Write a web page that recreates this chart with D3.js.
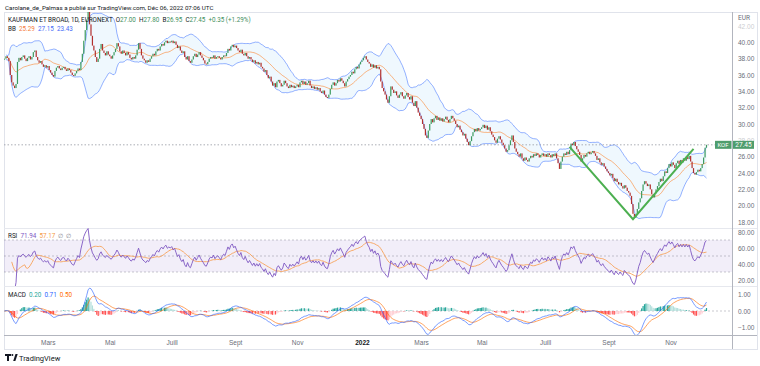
<!DOCTYPE html>
<html>
<head>
<meta charset="utf-8">
<script src="https://cdn.jsdelivr.net/npm/d3@7"></script>
<style>
  html, body { margin: 0; padding: 0; background: #fff; }
  svg { display: block; font-family: Roboto, "Open Sans", sans-serif; }
</style>
</head>
<body>
<div id="chart"></div>
<script>
// daily closes, one row per month
const close2021 = [
    38.0, 38.3, 38.1, 37.7, 36.0, 35.1, 34.7, 34.4, 34.9, 37.6, // janv (from 18th)
    38.1, 37.8, 38.2, 38.4, 38.0, 37.7, 38.1, 38.3, 37.9, 38.2, 38.8, 39.0, 38.2, 37.8, 37.5, 37.7, 37.3, 37.0, 37.2, 36.9,
    37.1, 36.6, 36.3, 36.0, 35.8, 36.5, 36.9, 37.1, 36.8, 36.6, 36.9, 37.0, 36.7, 36.5, 36.8, 36.6, 36.3, 36.0, 35.9, 36.2, 36.5, 36.8, 36.6,
    37.6, 38.6, 40.2, 41.5, 42.8, 44.0, 42.2, 40.8, 39.6, 39.0, 38.2, 37.6, 38.0, 39.2, 39.8, 39.0, 38.7, 38.4, 38.9, 38.5,
    38.3, 38.0, 38.4, 38.8, 39.2, 39.9, 39.5, 38.9, 38.6, 39.0, 38.7, 38.4, 38.8, 38.5, 38.1, 37.9, 38.2, 38.0, 38.4, 39.1, 39.9,
    39.2, 38.4, 38.0, 37.8, 37.5, 37.8, 37.6, 38.0, 38.3, 38.6, 38.4, 38.9, 39.2, 39.0, 39.5, 39.8, 39.6, 40.0, 40.2, 39.9, 40.1, 40.0,
    40.2, 39.9, 40.1, 39.7, 39.3, 39.5, 39.0, 38.7, 38.9, 38.2, 37.9, 38.3, 37.7, 37.5, 37.9, 38.3, 38.6, 38.2, 38.5, 38.8, 38.4, 38.1,
    37.8, 37.4, 37.3, 37.6, 38.0, 38.2, 38.1, 38.4, 38.0, 38.2, 38.3, 38.1, 37.9, 38.2, 38.4, 38.3, 38.7, 39.2, 39.0, 39.5, 39.7, 39.4,
    39.6, 39.3, 39.0, 38.8, 39.1, 38.6, 38.4, 38.7, 38.3, 38.0, 38.2, 37.9, 37.6, 37.8, 37.4, 37.6, 37.3, 37.5, 37.0, 36.8, 36.4, 36.6,
    36.0, 35.6, 35.8, 35.2, 34.7, 35.0, 34.5, 35.2, 35.4, 35.0, 34.6, 34.8, 35.3, 35.0, 34.6, 34.4, 34.8, 34.5, 34.7, 34.4, 34.6,
    34.8, 34.5, 35.1, 35.3, 34.9, 35.2, 34.8, 35.0, 35.3, 34.7, 34.4, 34.6, 34.3, 34.5, 34.2, 34.4, 34.0, 33.8, 34.1, 33.6, 33.3, 33.2,
    33.6, 34.3, 34.8, 35.1, 34.7, 35.0, 35.4, 35.2, 35.6, 35.3, 35.0, 34.6, 35.2, 35.5, 35.8, 36.0, 36.4, 36.2, 36.7, 37.0, 36.8, 37.3, 37.6
];
const close2022 = [
    37.8, 38.1, 38.3, 37.9, 37.6, 37.4, 37.0, 37.3, 36.9, 37.2, 36.8, 37.0, 36.7, 35.2, 34.4, 34.0, 33.6, 33.0, 32.6, 33.4, 34.6,
    34.2, 33.8, 34.0, 33.5, 33.2, 33.6, 33.9, 33.4, 33.1, 33.5, 33.8, 33.3, 33.0, 33.4, 32.6, 32.2, 32.8, 32.0, 31.4, 31.0,
    30.6, 30.0, 29.4, 28.6, 28.3, 29.2, 30.0, 30.6, 30.2, 30.7, 31.0, 30.5, 30.8, 30.4, 30.7, 30.3, 30.6, 30.9, 30.5, 30.2, 30.6, 31.0, 30.7,
    30.4, 30.0, 29.6, 29.8, 29.3, 29.0, 28.6, 28.8, 28.2, 27.8, 27.4, 27.9, 28.5, 29.0, 29.4, 29.1, 29.5, 29.2, 29.4,
    29.6, 29.9, 29.5, 29.8, 29.3, 29.6, 29.1, 28.7, 28.4, 28.0, 27.7, 28.2, 28.5, 28.1, 27.7, 27.4, 27.0, 26.6, 26.8, 27.4, 28.0, 28.6,
    27.8, 27.0, 26.6, 26.3, 26.0, 26.4, 25.8, 25.5, 25.9, 25.6, 25.4, 25.8, 26.1, 25.9, 26.3, 26.1, 26.4, 26.2, 25.9, 26.2, 26.4, 26.1,
    26.3, 26.0, 26.4, 26.2, 25.9, 26.3, 26.1, 26.4, 25.8, 25.2, 24.5, 25.4, 26.0, 26.4, 26.2, 26.6, 26.3, 26.8, 27.6, 27.4, 27.8,
    27.3, 26.9, 26.6, 26.2, 25.4, 25.8, 26.2, 26.0, 26.4, 26.6, 26.3, 26.5, 26.7, 26.4, 26.1, 25.6, 25.8, 25.3, 25.0, 25.2, 24.8, 24.5, 24.2,
    24.0, 23.7, 23.9, 23.4, 23.0, 23.3, 22.9, 22.6, 22.8, 22.4, 22.1, 22.5, 22.2, 21.8, 21.6, 21.2, 20.2, 19.0, 18.5, 18.9, 19.6, 20.4,
    20.9, 21.8, 22.6, 23.0, 22.7, 22.4, 22.6, 22.0, 21.4, 21.0, 21.5, 22.0, 22.4, 22.9, 23.3, 23.0, 23.6, 24.2, 24.0, 24.6, 25.1,
    24.8, 25.3, 25.0, 24.6, 25.2, 25.5, 25.1, 25.6, 25.3, 25.8, 25.5, 26.0, 25.7, 26.1, 25.4, 24.6, 24.0, 23.8, 24.1, 24.4, 24.2, 24.6,
    25.1, 25.9, 27.1, 27.45
];
const holidays = ['2021-04-02', '2021-04-05', '2022-04-15', '2022-04-18'];
const firstDay = '2021-01-18';
const lastDay = '2022-12-06';

const priceTicks = [18, 20, 22, 24, 26, 28, 30, 32, 34, 36, 38, 40, 42];
const rsiTicks = [20, 40, 60, 80];
const rsiBands = [70, 50, 30];
const macdTicks = [-1, 0, 1];
const monthTicks = ['2021-03', '2021-05', '2021-07', '2021-09', '2021-11', '2022-01',
                    '2022-03', '2022-05', '2022-07', '2022-09', '2022-11'];
const monthLabels = ['Mars', 'Mai', 'Juill', 'Sept', 'Nov', '2022', 'Mars', 'Mai', 'Juill', 'Sept', 'Nov'];
// green drawing: [bar index, price]
const trendPoints = [[392, 27.2], [436, 18.35], [478, 26.95]];
const lastPrice = 27.45;

const closes = close2021.concat(close2022);
const fmtDay = d3.utcFormat('%Y-%m-%d');
const days = d3.utcDay.range(new Date(firstDay), d3.utcDay.offset(new Date(lastDay), 1))
    .filter(d => d.getUTCDay() % 6 !== 0 && !holidays.includes(fmtDay(d)));
const n = closes.length;

// ---- indicators
function sma(a, len) {
    return a.map((_, i) => d3.mean(a.slice(Math.max(0, i - len + 1), i + 1).filter(v => !isNaN(v))));
}
function ema(a, len) {
    const k = 2 / (len + 1);
    let e;
    return a.map(v => e = (e === undefined ? v : v * k + e * (1 - k)));
}
const basis = sma(closes, 20);
const bandDev = closes.map((_, i) => {
    const w = closes.slice(Math.max(0, i - 19), i + 1);
    const m = d3.mean(w);
    return Math.sqrt(d3.mean(w, v => (v - m) * (v - m)));
});
const upper = basis.map((b, i) => b + 2 * bandDev[i]);
const lower = basis.map((b, i) => b - 2 * bandDev[i]);

const rsi = [NaN];
let avgGain = 0, avgLoss = 0;
for (let i = 1; i < n; i++) {
    const ch = closes[i] - closes[i - 1];
    const g = Math.max(ch, 0), l = Math.max(-ch, 0);
    const len = Math.min(i, 14);
    avgGain = (avgGain * (len - 1) + g) / len;
    avgLoss = (avgLoss * (len - 1) + l) / len;
    rsi.push(avgLoss === 0 ? 100 : 100 - 100 / (1 + avgGain / avgLoss));
}
const rsiMa = sma(rsi, 14);

const ema12 = ema(closes, 12), ema26 = ema(closes, 26);
const macd = ema12.map((v, i) => v - ema26[i]);
const signal = ema(macd, 9);
const hist = macd.map((v, i) => v - signal[i]);

// ---- layout
const width = 760, height = 366;
const frame = {left: 4, right: 757, top: 12, bottom: 349};
const plotRight = 732;
const pane = {
    price: [12, 228],
    rsi: [228, 286],
    macd: [286, 335]
};

const x = d3.scaleLinear().domain([0, n - 1]).range([4.5, 706.5]);
const yP = d3.scaleLinear().domain([18, 42]).range([222, 26]);
const yR = d3.scaleLinear().domain([20, 80]).range([280, 232]);
const yM = d3.scaleLinear().domain([-1, 1]).range([327.3, 294.7]);

const svg = d3.select('#chart').append('svg')
    .attr('width', width)
    .attr('height', height);

const defs = svg.append('defs');
Object.entries(pane).forEach(([k, [t, b]]) => {
    defs.append('clipPath').attr('id', 'clip-' + k)
        .append('rect').attr('x', frame.left).attr('y', t).attr('width', plotRight - frame.left).attr('height', b - t);
});

// frame and separators
svg.append('rect')
    .attr('x', frame.left + 0.5).attr('y', frame.top + 0.5)
    .attr('width', frame.right - frame.left).attr('height', frame.bottom - frame.top)
    .attr('fill', 'none').attr('stroke', '#e0e3eb');
[pane.price[1], pane.rsi[1]].forEach(yy => {
    svg.append('line').attr('x1', frame.left).attr('x2', frame.right)
        .attr('y1', yy + 0.5).attr('y2', yy + 0.5).attr('stroke', '#e6e8ee');
});
svg.append('line').attr('x1', frame.left).attr('x2', frame.right)
    .attr('y1', pane.macd[1] + 0.5).attr('y2', pane.macd[1] + 0.5).attr('stroke', '#b2b5be');
svg.append('line').attr('x1', plotRight + 0.5).attr('x2', plotRight + 0.5)
    .attr('y1', frame.top).attr('y2', frame.bottom).attr('stroke', '#b2b5be');

// ---- price pane
const gP = svg.append('g').attr('clip-path', 'url(#clip-price)');

gP.append('path')
    .datum(d3.range(1, n))
    .attr('fill', '#2196f3').attr('fill-opacity', 0.07)
    .attr('d', d3.area().x(i => x(i)).y0(i => yP(lower[i])).y1(i => yP(upper[i])));

const bandLine = arr => d3.line().x(i => x(i)).y(i => yP(arr[i]));
[[upper, '#2962ff'], [lower, '#2962ff'], [basis, '#ff6d00']].forEach(([arr, col]) => {
    gP.append('path').datum(d3.range(1, n))
        .attr('fill', 'none').attr('stroke', col).attr('stroke-opacity', 0.55).attr('stroke-width', 0.9)
        .attr('d', bandLine(arr));
});

gP.append('line')
    .attr('x1', frame.left).attr('x2', plotRight)
    .attr('y1', yP(lastPrice)).attr('y2', yP(lastPrice))
    .attr('stroke', '#9598a1').attr('stroke-dasharray', '1.5,2').attr('stroke-width', 0.8);

gP.selectAll('rect.candle')
    .data(d3.range(n))
    .join('rect')
    .attr('class', 'candle')
    .attr('x', i => x(i) - 0.6)
    .attr('width', 1.2)
    .attr('y', i => yP(Math.max(closes[i], i ? closes[i - 1] : closes[i])))
    .attr('height', i => Math.max(1, Math.abs(yP(closes[i]) - yP(i ? closes[i - 1] : closes[i]))))
    .attr('fill', i => (i && closes[i] < closes[i - 1]) ? '#b2302e' : '#3d9a5f');

gP.append('path')
    .datum(trendPoints)
    .attr('fill', 'none').attr('stroke', '#4caf50').attr('stroke-width', 2)
    .attr('d', d3.line().x(d => x(d[0])).y(d => yP(d[1])));

// ---- RSI pane
const gR = svg.append('g').attr('clip-path', 'url(#clip-rsi)');
gR.append('rect')
    .attr('x', frame.left).attr('width', plotRight - frame.left)
    .attr('y', yR(70)).attr('height', yR(30) - yR(70))
    .attr('fill', '#7e57c2').attr('fill-opacity', 0.1);
rsiBands.forEach(v => {
    gR.append('line').attr('x1', frame.left).attr('x2', plotRight)
        .attr('y1', yR(v)).attr('y2', yR(v))
        .attr('stroke', '#787b86').attr('stroke-opacity', 0.5).attr('stroke-dasharray', '2,2').attr('stroke-width', 0.8);
});
gR.append('path').datum(d3.range(5, n))
    .attr('fill', 'none').attr('stroke', '#f7a258').attr('stroke-width', 0.9)
    .attr('d', d3.line().x(i => x(i)).y(i => yR(rsiMa[i])));
gR.append('path').datum(d3.range(4, n))
    .attr('fill', 'none').attr('stroke', '#7e57c2').attr('stroke-width', 0.9)
    .attr('d', d3.line().x(i => x(i)).y(i => yR(rsi[i])));

// ---- MACD pane
const gM = svg.append('g').attr('clip-path', 'url(#clip-macd)');
gM.append('line').attr('x1', frame.left).attr('x2', plotRight)
    .attr('y1', yM(0)).attr('y2', yM(0))
    .attr('stroke', '#787b86').attr('stroke-opacity', 0.5).attr('stroke-dasharray', '2,2').attr('stroke-width', 0.8);
gM.selectAll('rect.hist')
    .data(d3.range(n))
    .join('rect')
    .attr('class', 'hist')
    .attr('x', i => x(i) - 0.6)
    .attr('width', 1.2)
    .attr('y', i => Math.min(yM(0), yM(hist[i])))
    .attr('height', i => Math.abs(yM(hist[i]) - yM(0)))
    .attr('fill', i => {
        const prev = i ? hist[i - 1] : hist[i];
        if (hist[i] >= 0) return hist[i] > prev ? '#26a69a' : '#b2dfdb';
        return hist[i] < prev ? '#ff5252' : '#ffcdd2';
    });
gM.append('path').datum(d3.range(n))
    .attr('fill', 'none').attr('stroke', '#ff6d00').attr('stroke-opacity', 0.7).attr('stroke-width', 0.9)
    .attr('d', d3.line().x(i => x(i)).y(i => yM(signal[i])));
gM.append('path').datum(d3.range(n))
    .attr('fill', 'none').attr('stroke', '#2962ff').attr('stroke-opacity', 0.7).attr('stroke-width', 0.9)
    .attr('d', d3.line().x(i => x(i)).y(i => yM(macd[i])));

// ---- axes
const axisText = g => g.call(a => a.select('.domain').remove())
    .selectAll('text').attr('fill', '#6a6d78').style('font-size', '6.5px');

svg.append('g').attr('transform', `translate(${plotRight + 3},0)`)
    .call(d3.axisRight(yP).tickValues(priceTicks).tickSize(0).tickPadding(3).tickFormat(d3.format('.2f')))
    .call(axisText)
    .call(g => g.selectAll('.tick').filter(d => d === 42 || d === 28).attr('opacity', 0.35));
svg.append('g').attr('transform', `translate(${plotRight + 3},0)`)
    .call(d3.axisRight(yR).tickValues(rsiTicks).tickSize(0).tickPadding(3).tickFormat(d3.format('.2f')))
    .call(axisText);
svg.append('g').attr('transform', `translate(${plotRight + 3},0)`)
    .call(d3.axisRight(yM).tickValues(macdTicks).tickSize(0).tickPadding(3).tickFormat(d3.format('.2f')))
    .call(axisText);
svg.append('text').attr('x', plotRight + 6).attr('y', 20)
    .attr('fill', '#6a6d78').style('font-size', '6.5px').text('EUR');

const tickIdx = monthTicks.map(m => days.findIndex(d => fmtDay(d).startsWith(m)));
svg.append('g').attr('transform', `translate(0,${pane.macd[1] + 2.5})`)
    .call(d3.axisBottom(x).tickValues(tickIdx).tickSize(0).tickPadding(3)
        .tickFormat((d, i) => monthLabels[i]))
    .call(axisText)
    .call(g => g.selectAll('text').filter((d, i) => monthLabels[i] === '2022')
        .attr('fill', '#131722').style('font-weight', 'bold'));

// last price labels (drawn over the 28.00 tick, as in TradingView)
const lp = yP(lastPrice);
svg.append('rect').attr('x', 715).attr('y', lp - 4).attr('width', 16.5).attr('height', 8).attr('fill', '#4f9d6d');
svg.append('text').attr('x', 723).attr('y', lp).attr('dy', '0.35em').attr('text-anchor', 'middle')
    .attr('fill', '#fff').style('font-size', '6px').text('KOF');
svg.append('rect').attr('x', plotRight + 1).attr('y', lp - 4).attr('width', 21).attr('height', 8).attr('fill', '#4f9d6d');
svg.append('text').attr('x', plotRight + 11.5).attr('y', lp).attr('dy', '0.35em').attr('text-anchor', 'middle')
    .attr('fill', '#fff').style('font-size', '6.5px').text(lastPrice.toFixed(2));

// ---- legends
const legend = (yy, parts) => {
    const t = svg.append('text').attr('x', 8).attr('y', yy).style('font-size', '6.3px')
        .attr('xml:space', 'preserve');
    parts.forEach(([s, col]) => t.append('tspan').attr('fill', col).text(s));
    return t;
};
const green = '#3f8f5e';
legend(21.5, [['KAUFMAN ET BROAD, 1D, EURONEXT  ', '#131722'], ['O', '#131722'], ['27.00  ', green],
    ['H', '#131722'], ['27.80  ', green], ['B', '#131722'], ['26.95  ', green],
    ['C', '#131722'], ['27.45  ', green], ['+0.35 (+1.29%)', green]]);
legend(31, [['BB  ', '#131722'], ['25.29  ', '#f57c3a'], ['27.15  ', '#4a6cf7'], ['23.43', '#4a6cf7']]);
legend(237.5, [['RSI  ', '#131722'], ['71.94  ', '#7e57c2'], ['57.17  ', '#f59a45'], ['\u2205  \u2205', '#787b86']]);
legend(297, [['MACD  ', '#131722'], ['0.20  ', '#26a69a'], ['0.71  ', '#2962ff'], ['0.50', '#ff6d00']]);

svg.append('text').attr('x', 5).attr('y', 9.5)
    .attr('fill', '#131722').style('font-size', '6.2px')
    .text('Carolane_de_Palmas a publié sur TradingView.com, Déc 06, 2022 07:06 UTC');

// footer logo
const logo = svg.append('g').attr('fill', '#131722');
logo.append('path').attr('d', 'M5,354 h6 v2 h-2 v5 h-2 v-5 h-2 z');
logo.append('circle').attr('cx', 12.4).attr('cy', 355).attr('r', 1);
logo.append('path').attr('d', 'M13.2,361 l2.3,-7 h2.2 l-2.3,7 z');
svg.append('text').attr('x', 19).attr('y', 360.5)
    .attr('fill', '#131722').style('font-size', '7.5px').text('TradingView');
</script>
</body>
</html>
